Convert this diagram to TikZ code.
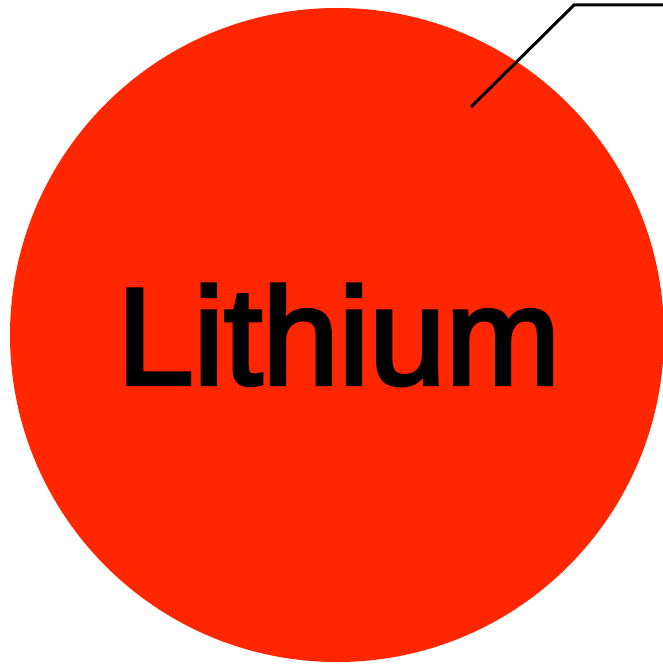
\documentclass[tikz,border=0pt]{standalone}
\usepackage{fontspec}
\setmainfont{Liberation Sans}
\newfontfamily\atomfont[FakeBold=3]{Liberation Sans}
\definecolor{lired}{RGB}{255,38,0}
\begin{document}
\begin{tikzpicture}[x=1pt,y=-1pt,
  atom/.style={circle,fill=lired,draw=none,minimum size=654pt,inner sep=0pt},
  lbl/.style={font=\atomfont\fontsize{134}{160}\selectfont,text=black,inner sep=0pt,anchor=base west},
  leader/.style={draw=black,line width=3pt}]
\useasboundingbox (0,0) rectangle (663,666);
\node[atom] (atom) at (337,335) {};
\node[lbl] (name) at (117,384) {\resizebox{443pt}{!}{Lithium}};
\coordinate (p) at (471,107);
\coordinate (k) at (574,5);
\coordinate (e) at (664,5);
\draw[leader] (p) -- (k) -- (e);
\end{tikzpicture}
\end{document}
